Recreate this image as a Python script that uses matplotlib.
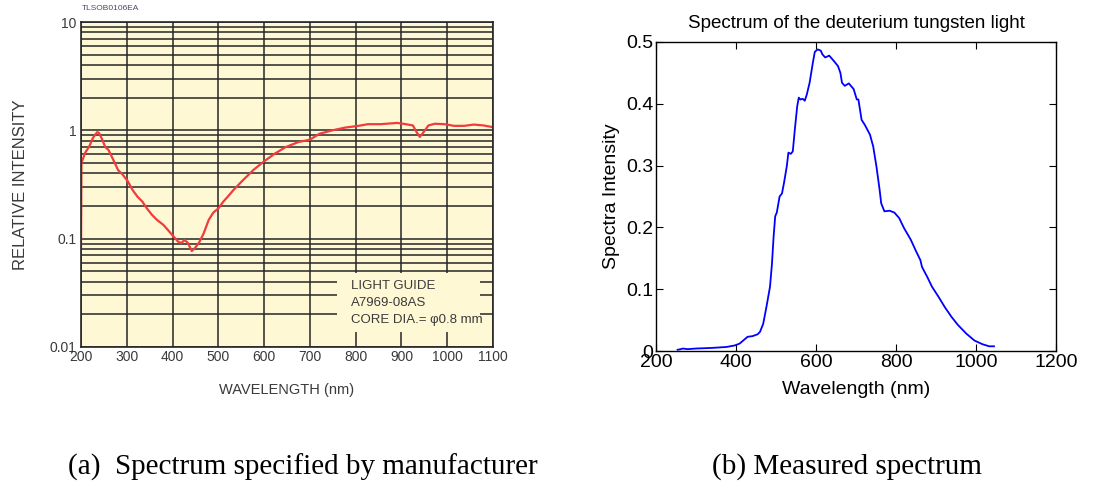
import matplotlib
matplotlib.use("Agg")
import matplotlib.pyplot as plt
from matplotlib.patches import Rectangle

plt.rcParams["font.family"] = ["Liberation Sans", "DejaVu Sans"]

# Manufacturer spectrum (relative intensity, log scale)
wl_spec = [200, 201, 209, 218, 226, 235, 239, 246, 253, 260, 270, 281, 291,
           302, 313, 323, 334, 344, 355, 366, 380, 390, 401, 412, 419, 426,
           433, 442, 449, 458, 468, 479, 489, 500, 511, 521, 532, 553, 577,
           598, 623, 647, 675, 700, 721, 749, 777, 806, 827, 855, 890, 904,
           925, 933, 940, 947, 959, 973, 994, 1015, 1037, 1058, 1079, 1100]
rel_spec = [0.081, 0.50, 0.62, 0.71, 0.85, 0.96, 0.95, 0.83, 0.70, 0.66, 0.54,
            0.43, 0.39, 0.34, 0.28, 0.245, 0.22, 0.19, 0.166, 0.149, 0.134,
            0.12, 0.106, 0.094, 0.091, 0.097, 0.092, 0.077, 0.082, 0.092,
            0.112, 0.149, 0.174, 0.19, 0.22, 0.245, 0.278, 0.344, 0.432, 0.51,
            0.608, 0.70, 0.78, 0.82, 0.93, 1.0, 1.06, 1.10, 1.14, 1.14, 1.17,
            1.15, 1.11, 0.965, 0.87, 0.945, 1.11, 1.15, 1.14, 1.10, 1.10, 1.13,
            1.11, 1.07]

# Measured spectrum of the deuterium tungsten lamp
wl_meas = [254, 262, 267, 279, 300, 340, 376, 397, 409, 420, 429, 441, 454,
           460, 468, 476, 485, 490, 494, 498, 502, 509, 515, 520, 527, 531,
           537, 542, 547, 553, 557, 561, 567, 572, 577, 584, 592, 597, 604,
           612, 616, 623, 633, 645, 655, 661, 665, 672, 682, 694, 702, 706,
           714, 722, 735, 743, 751, 759, 763, 771, 784, 796, 808, 820, 837,
           849, 861, 865, 878, 890, 906, 922, 939, 955, 976, 996, 1016, 1033,
           1045]
int_meas = [0.002, 0.003, 0.004, 0.003, 0.004, 0.005, 0.0065, 0.009, 0.012,
            0.018, 0.023, 0.024, 0.027, 0.031, 0.044, 0.071, 0.104, 0.142,
            0.185, 0.218, 0.224, 0.25, 0.255, 0.272, 0.299, 0.321, 0.319,
            0.323, 0.358, 0.396, 0.41, 0.407, 0.408, 0.405, 0.415, 0.434,
            0.466, 0.484, 0.488, 0.486, 0.48, 0.475, 0.478, 0.469, 0.461,
            0.45, 0.434, 0.429, 0.433, 0.424, 0.407, 0.407, 0.374, 0.366,
            0.35, 0.331, 0.299, 0.261, 0.239, 0.226, 0.227, 0.224, 0.215,
            0.199, 0.18, 0.163, 0.147, 0.136, 0.12, 0.104, 0.088, 0.071,
            0.055, 0.042, 0.028, 0.017, 0.011, 0.0076, 0.0076]

spec_xticks = list(range(200, 1101, 100))
spec_yticks = [0.01, 0.1, 1, 10]
spec_ylabels = ["0.01", "0.1", "1", "10"]
meas_xticks = [200, 400, 600, 800, 1000, 1200]
meas_yticks = [0, 0.1, 0.2, 0.3, 0.4, 0.5]
meas_ylabels = ["0", "0.1", "0.2", "0.3", "0.4", "0.5"]
legend_lines = ["LIGHT GUIDE", "A7969-08AS", "CORE DIA.= \u03c60.8 mm"]

W, H = 1093, 487
fig = plt.figure(figsize=(W / 100, H / 100), dpi=100)

# ── (a) datasheet-style log plot ─────────────────────────────────────
cream = "#fff8d4"
ink = "#3a3a3a"
gridc = "#262626"
ax1 = fig.add_axes([81 / W, 1 - 347 / H, 412 / W, 325 / H])
ax1.set_facecolor(cream)
ax1.set_yscale("log")
ax1.set_xlim(200, 1100)
ax1.set_ylim(0.01, 10)
ax1.set_axisbelow(True)
ax1.set_xticks(spec_xticks)
ax1.set_xticklabels([str(t) for t in spec_xticks])
ax1.set_yticks(spec_yticks)
ax1.set_yticklabels(spec_ylabels)
ax1.tick_params(axis="both", which="both", length=0, labelsize=10,
                labelcolor=ink, pad=3)
ax1.tick_params(axis="x", pad=2)
ax1.grid(True, axis="x", color=gridc, lw=1.1)
ax1.grid(True, axis="y", which="both", color=gridc, lw=1.1)
for s in ax1.spines.values():
    s.set_color(gridc)
    s.set_linewidth(1.2)

# box for the light guide note, drawn over the grid
ax1.add_patch(Rectangle((759, 0.0138), 313, 0.0484 - 0.0138,
                        facecolor=cream, edgecolor="none", zorder=1))
for txt, yv in zip(legend_lines, [0.0367, 0.0257, 0.0177]):
    ax1.text(790, yv, txt, fontsize=9.5, color=ink, va="center", ha="left",
             zorder=3)

ax1.plot(wl_spec, rel_spec, color="#f03c3c", lw=1.6, zorder=2)
ax1.set_xlabel("WAVELENGTH (nm)", fontsize=10.5, color=ink, labelpad=14)
ax1.set_ylabel("RELATIVE INTENSITY", fontsize=12, color=ink, labelpad=16)
fig.text(82 / W, 1 - 9 / H, "TLSOB0106EA", fontsize=6, color="#4a4a66",
         va="center", ha="left")

# ── (b) measured spectrum, MATLAB style ──────────────────────────────
ax2 = fig.add_axes([656 / W, 1 - 351 / H, 400 / W, 309 / H])
ax2.plot(wl_meas, int_meas, color="#0000ff", lw=1.3)
ax2.set_xlim(200, 1200)
ax2.set_ylim(0, 0.5)
ax2.set_xticks(meas_xticks)
ax2.set_yticks(meas_yticks)
ax2.set_yticklabels(meas_ylabels)
ax2.tick_params(direction="in", top=True, right=True, length=5, width=0.8,
                labelsize=14, pad=2)
for s in ax2.spines.values():
    s.set_linewidth(1.0)
ax2.set_title("Spectrum of the deuterium tungsten light", fontsize=13.5,
              pad=10)
ax2.set_xlabel("Wavelength (nm)", fontsize=14, labelpad=7)
ax2.set_ylabel("Spectra Intensity", fontsize=14, labelpad=4)

# ── captions ─────────────────────────────────────────────────────────
fig.text(68 / W, 1 - 467 / H, "(a)  Spectrum specified by manufacturer",
         family="Liberation Serif", fontsize=21, va="center", ha="left")
fig.text(712 / W, 1 - 467 / H, "(b) Measured spectrum",
         family="Liberation Serif", fontsize=21, va="center", ha="left")

fig.savefig("out.png", dpi=100)
